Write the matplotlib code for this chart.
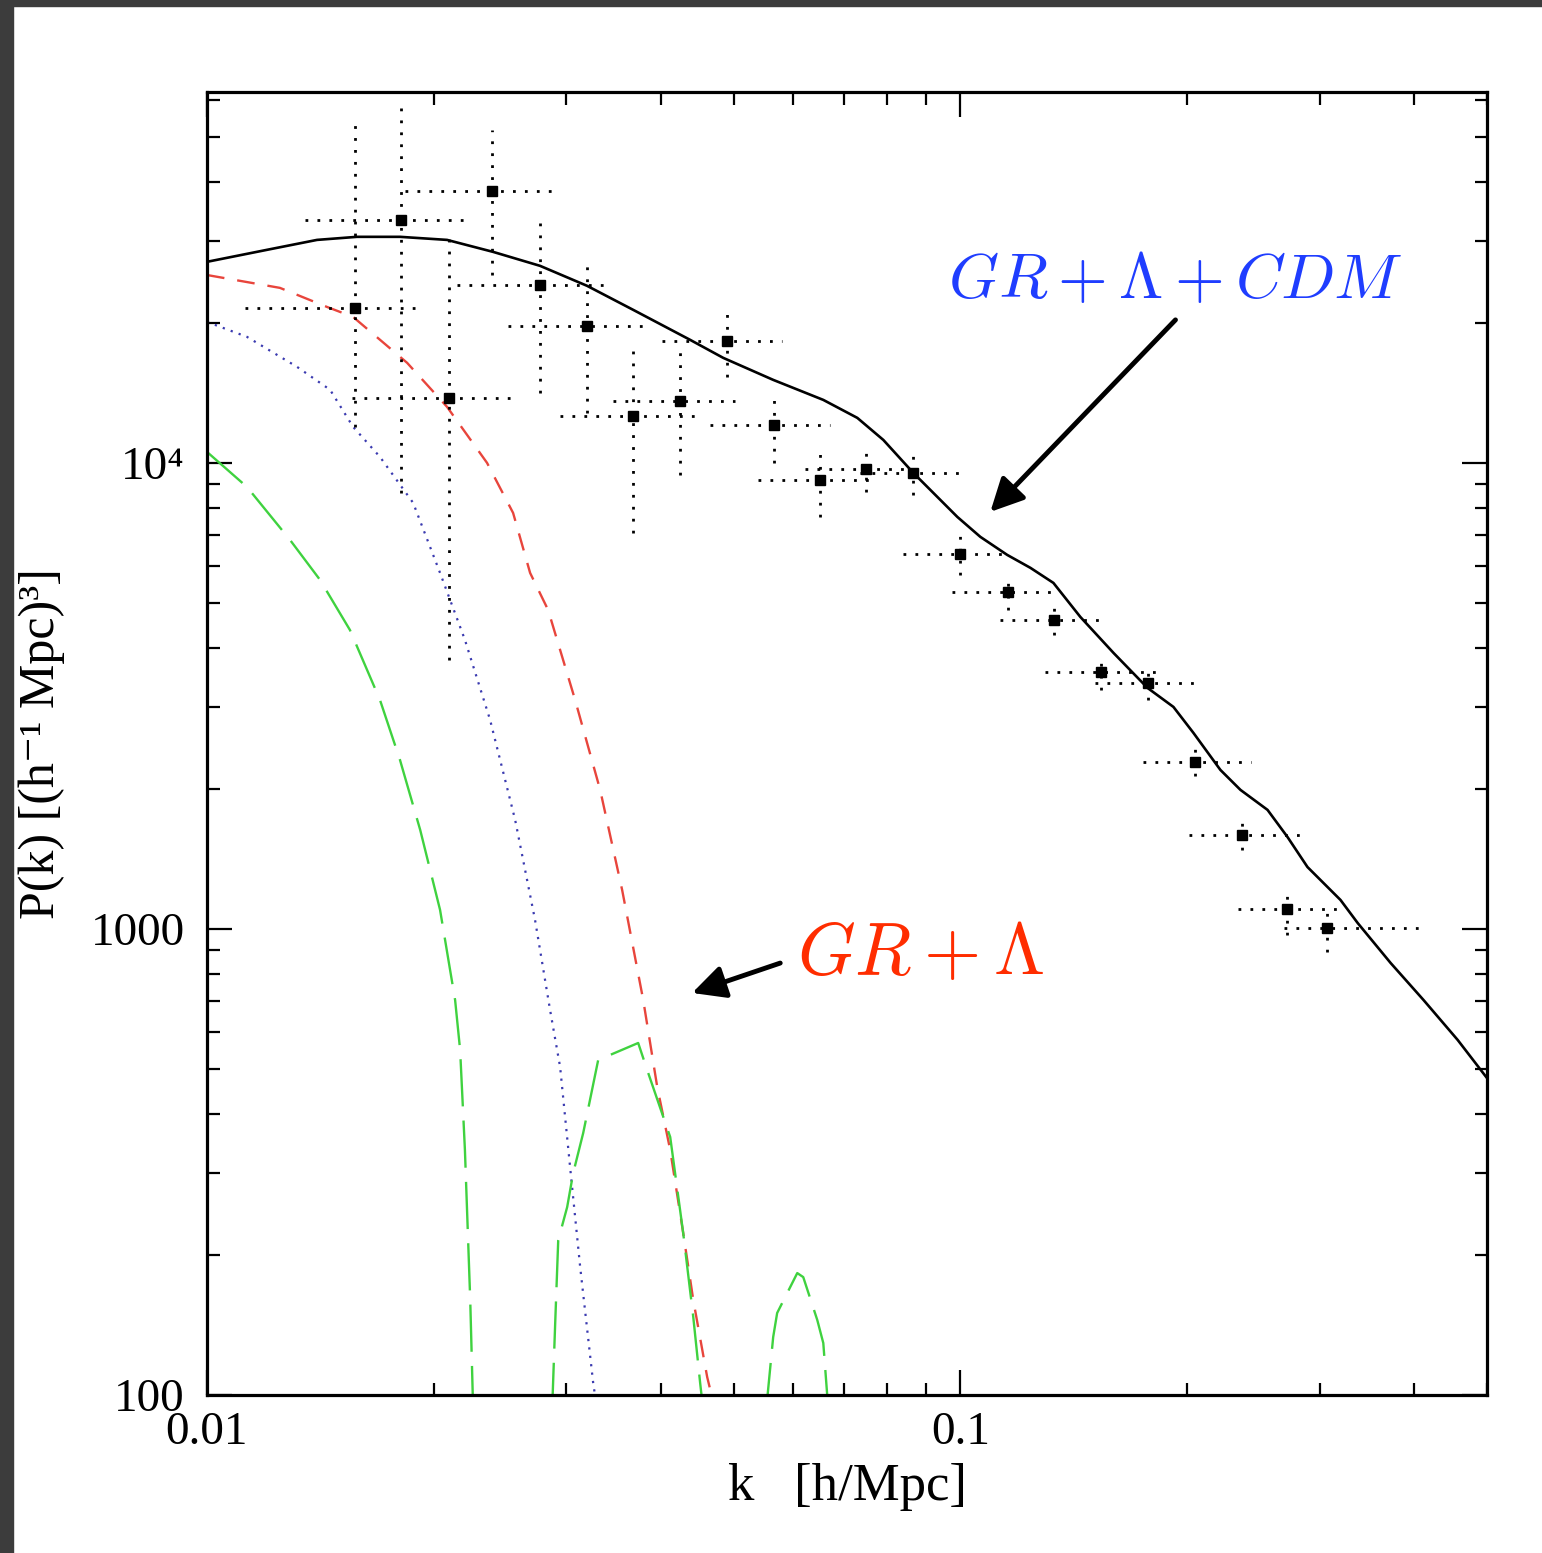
import numpy as np
import matplotlib
matplotlib.use("Agg")
import matplotlib.pyplot as plt
from matplotlib.ticker import LogLocator, NullFormatter
from matplotlib.patches import Rectangle

plt.rcParams['font.family'] = ['Liberation Serif', 'DejaVu Serif']
plt.rcParams['mathtext.fontset'] = 'cm'

# measured band powers: k bin centre, bin edges, P(k) and its error range
k_data = [0.01572, 0.0181, 0.02096, 0.02391, 0.02768, 0.03196, 0.03679, 0.04248,
          0.04905, 0.05661, 0.06517, 0.07503, 0.08662, 0.1, 0.1158, 0.1333,
          0.1539, 0.1777, 0.2051, 0.2362, 0.2710, 0.3062]
k_lo = [0.01123, 0.01349, 0.01558, 0.01832, 0.02148, 0.0251, 0.02943, 0.03461,
        0.04021, 0.04656, 0.05392, 0.06225, 0.07367, 0.08402, 0.09758, 0.1130,
        0.1297, 0.1511, 0.1745, 0.2009, 0.2333, 0.2685]
k_hi = [0.01919, 0.0220, 0.02549, 0.02916, 0.03378, 0.03852, 0.04447, 0.05026,
        0.05801, 0.0672, 0.07642, 0.08715, 0.1009, 0.1165, 0.1337, 0.1548,
        0.1816, 0.2096, 0.2428, 0.2828, 0.3196, 0.4057]
P_data = [21510, 33200, 13790, 38340, 24100, 19680, 12610, 13580, 18270, 12060,
          9194, 9707, 9517, 6378, 5287, 4603, 3560, 3372, 2282, 1591, 1104, 1005]
P_lo = [11950, 8620, 3778, 25300, 14130, 12800, 7076, 9424, 15290, 10000,
        7657, 8665, 8535, 5750, 4835, 4274, 3258, 3100, 2130, 1477, 971, 892]
P_hi = [55000, 58600, 31300, 51800, 34050, 27000, 18090, 17910, 21200, 14200,
        10820, 10930, 10400, 7006, 5750, 4958, 3815, 3632, 2446, 1714, 1213, 1088]

# GR + Lambda + CDM model (black)
k_cdm = [0.01, 0.012015, 0.014, 0.01582, 0.01804, 0.02083, 0.02398, 0.02768,
         0.03196, 0.03679, 0.0438, 0.04845, 0.05644, 0.06578, 0.07299, 0.07903,
         0.08662, 0.09321, 0.09909, 0.1063, 0.1154, 0.1239, 0.1329, 0.1443,
         0.1597, 0.1772, 0.1918, 0.2039, 0.2214, 0.2354, 0.2557, 0.2718, 0.2889,
         0.3196, 0.3368, 0.3725, 0.4119, 0.4572, 0.5]
P_cdm = [27000, 28650, 30090, 30550, 30550, 30090, 28360, 26470, 23980, 21300,
         18360, 16800, 15070, 13650, 12490, 11200, 9517, 8453, 7657, 6939, 6347,
         5953, 5527, 4672, 3911, 3290, 2995, 2634, 2194, 1988, 1801, 1575, 1358,
         1154, 1030, 845.3, 704, 578, 478.9]

# GR + Lambda (red dashed)
k_gr = [0.01, 0.0125, 0.01443, 0.01563, 0.01844, 0.02083, 0.02354, 0.02549,
        0.02685, 0.02837, 0.03081, 0.03326, 0.03557, 0.03794, 0.0396, 0.0412,
        0.04287, 0.04421, 0.04613, 0.04727]
P_gr = [25300, 23740, 21610, 20570, 16390, 13190, 10000, 7810, 5807, 4835, 3100,
        1988, 1213, 704, 458, 335.6, 222.6, 159.9, 109.3, 92.9]

# blue dotted curve
k_blue = [0.01, 0.0113, 0.01317, 0.01457, 0.01563, 0.01697, 0.01878, 0.02039,
          0.0220, 0.02376, 0.02565, 0.02726, 0.02854, 0.02943, 0.03034, 0.03129,
          0.03256, 0.03296]
P_blue = [20070, 18640, 16070, 14350, 11950, 10300, 8208, 5807, 4172, 2809, 1714,
          1045, 670, 505.6, 308.5, 188.2, 106.1, 92.9]

# green long-dashed curve, three lobes
k_green1 = [0.01, 0.0113, 0.01289, 0.01413, 0.01548, 0.01697, 0.01804, 0.01919,
            0.02039, 0.02135, 0.02168, 0.0220, 0.02236, 0.02256]
P_green1 = [10560, 8881, 6836, 5609, 4381, 3100, 2305, 1631, 1099, 704, 550,
            335.6, 159.9, 92.9]
k_green2 = [0.02872, 0.02899, 0.02926, 0.03007, 0.03063, 0.03158, 0.03306,
            0.03736, 0.0384, 0.0412, 0.04287, 0.04421, 0.04515, 0.04557]
P_green2 = [92.9, 142.7, 215, 253.1, 299.5, 364.9, 523.4, 569.4, 498.3, 357.8,
            222.6, 147, 106.1, 92.9]
k_green3 = [0.05524, 0.05644, 0.05713, 0.06075, 0.06187, 0.06458, 0.06578, 0.0668]
P_green3 = [92.9, 133.2, 150, 182.7, 179.1, 144.9, 129.3, 92.9]

fig = plt.figure(figsize=(15.42, 15.53), dpi=100)
ax = fig.add_axes([0.1342, 0.1017, 0.8301, 0.8391])

# dark screenshot border
fig.patches.append(Rectangle((0, 0), 0.0084, 1, transform=fig.transFigure,
                             color='#3c3c3c', zorder=0))
fig.patches.append(Rectangle((0, 0.9962), 1, 0.0038, transform=fig.transFigure,
                             color='#3c3c3c', zorder=0))

k = np.array(k_data)
P = np.array(P_data)
xerr = [k - np.array(k_lo), np.array(k_hi) - k]
yerr = [P - np.array(P_lo), np.array(P_hi) - P]
eb = ax.errorbar(k, P, xerr=xerr, yerr=yerr, fmt='s', color='k', ms=7.5,
                 ecolor='k', elinewidth=2.0, capsize=0, zorder=3)
for lc in eb[2]:
    lc.set_linestyle((0, (1, 3.3)))

ax.plot(k_cdm, P_cdm, color='k', lw=1.9, zorder=4)
ax.plot(k_gr, P_gr, color='#e8453c', lw=1.7, dashes=(7.5, 5.5), zorder=2)
ax.plot(k_blue, P_blue, color='#3a3ab0', lw=1.6, dashes=(1, 2.8), zorder=2)
for kg, pg in [(k_green1, P_green1), (k_green2, P_green2), (k_green3, P_green3)]:
    ax.plot(kg, pg, color='#3fd23f', lw=1.7, dashes=(20, 6), zorder=2)

ax.set_xscale('log')
ax.set_yscale('log')
ax.set_xlim(0.01, 0.5)
ax.set_ylim(100, 62500)

ax.set_xticks([0.01, 0.1], ['0.01', '0.1'])
ax.set_yticks([100, 1000, 1e4], ['100', '1000', '10\u2074'])
ax.xaxis.set_minor_locator(LogLocator(base=10, subs=np.arange(2, 10)))
ax.yaxis.set_minor_locator(LogLocator(base=10, subs=np.arange(2, 10)))
ax.xaxis.set_minor_formatter(NullFormatter())
ax.yaxis.set_minor_formatter(NullFormatter())

ax.tick_params(which='both', direction='in', top=True, right=True,
               labelsize=34, width=1.6)
ax.tick_params(which='major', length=18)
ax.tick_params(which='minor', length=9)
ax.tick_params(axis='x', pad=12)
ax.tick_params(axis='y', pad=16)
for s in ax.spines.values():
    s.set_linewidth(2.3)

ax.set_xlabel('k   [h/Mpc]', fontsize=38)
ax.xaxis.label.set_va('center')
ax.xaxis.set_label_coords(0.5, -0.0706)
ax.set_ylabel('P(k) [(h\u207b\u00b9 Mpc)\u00b3]', fontsize=36)
ax.yaxis.label.set_va('center')
ax.yaxis.set_label_coords(-0.129, 0.5)

ax.text(0.0964, 22600, r'$GR+\Lambda+CDM$', color='#1f3dff', fontsize=46,
        ha='left', va='baseline')
ax.annotate('', xy=(0.1096, 7850), xytext=(0.1930, 20270),
            arrowprops=dict(arrowstyle='-|>,head_length=1.0,head_width=0.5',
                            lw=3.5, color='k', mutation_scale=20, shrinkA=0, shrinkB=0))

ax.text(0.06075, 800, r'$GR+\Lambda$', color='#ff2d00', fontsize=53,
        ha='left', va='baseline')
ax.annotate('', xy=(0.04406, 729), xytext=(0.05767, 845),
            arrowprops=dict(arrowstyle='-|>,head_length=1.0,head_width=0.5',
                            lw=3.5, color='k', mutation_scale=20, shrinkA=0, shrinkB=0))

fig.savefig('out.png', dpi=100, facecolor='white')
